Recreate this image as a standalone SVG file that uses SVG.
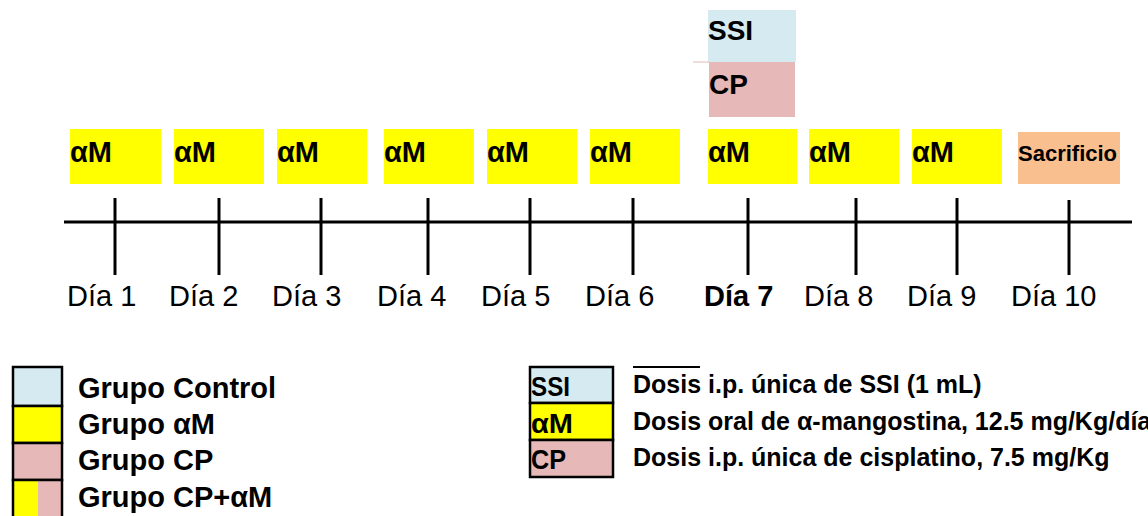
<svg xmlns="http://www.w3.org/2000/svg" width="1148" height="516" viewBox="0 0 1148 516">
<style>
  text { font-family: "Liberation Sans", Arial, sans-serif; fill: #000; }
  .b { font-weight: bold; }
  .am { font-size: 29px; font-weight: bold; }
  .day { font-size: 29px; }
  .leg { font-size: 29px; font-weight: bold; }
  .desc { font-size: 25px; font-weight: bold; }
  .box { font-size: 27px; font-weight: bold; }
  .y { fill: #FFFF00; }
  .bl { fill: #D6EBF1; }
  .pk { fill: #E6B8B7; }
  .pe { fill: #F9BF8F; }
  .ln { stroke: #000; stroke-width: 3; fill: none; }
  .bd { stroke: #000; stroke-width: 2.5; }
</style>

<g id="top-doses">
  <g id="ssi-top">
    <rect class="bl" x="708" y="10" width="88" height="52"/>
    <text class="b" x="708" y="40" font-size="28">SSI</text>
  </g>
  <g id="cp-top">
    <line x1="693" y1="62" x2="709" y2="62" stroke="#E6B8B7" stroke-width="1"/>
    <rect class="pk" x="709" y="62" width="86" height="55"/>
    <text class="b" x="709" y="94" font-size="28">CP</text>
  </g>
</g>

<g id="am-boxes">
  <g id="am1"><rect class="y" x="70" y="129" width="91" height="55"/><text class="am" x="70" y="162">αM</text></g>
  <g id="am2"><rect class="y" x="174" y="129" width="90" height="55"/><text class="am" x="174" y="162">αM</text></g>
  <g id="am3"><rect class="y" x="277" y="129" width="90" height="55"/><text class="am" x="277" y="162">αM</text></g>
  <g id="am4"><rect class="y" x="384" y="129" width="90" height="55"/><text class="am" x="384" y="162">αM</text></g>
  <g id="am5"><rect class="y" x="487" y="129" width="90" height="55"/><text class="am" x="487" y="162">αM</text></g>
  <g id="am6"><rect class="y" x="590" y="129" width="90" height="55"/><text class="am" x="590" y="162">αM</text></g>
  <g id="am7"><rect class="y" x="708" y="129" width="89" height="55"/><text class="am" x="708" y="162">αM</text></g>
  <g id="am8"><rect class="y" x="809" y="129" width="90" height="55"/><text class="am" x="809" y="162">αM</text></g>
  <g id="am9"><rect class="y" x="912" y="129" width="90" height="55"/><text class="am" x="912" y="162">αM</text></g>
  <g id="sacrificio"><rect class="pe" x="1018" y="132" width="102" height="52"/><text class="b" x="1018" y="161" font-size="22">Sacrificio</text></g>
</g>

<g id="connectors">
  <line class="ln" x1="64" y1="222" x2="1132" y2="222"/>
  <line class="ln" x1="115" y1="198" x2="115" y2="275"/>
  <line class="ln" x1="219" y1="198" x2="219" y2="275"/>
  <line class="ln" x1="321" y1="198" x2="321" y2="275"/>
  <line class="ln" x1="428" y1="198" x2="428" y2="275"/>
  <line class="ln" x1="530" y1="198" x2="530" y2="275"/>
  <line class="ln" x1="633" y1="198" x2="633" y2="275"/>
  <line class="ln" x1="748" y1="198" x2="748" y2="275"/>
  <line class="ln" x1="856" y1="198" x2="856" y2="275"/>
  <line class="ln" x1="957" y1="198" x2="957" y2="275"/>
  <line class="ln" x1="1069" y1="200" x2="1069" y2="275"/>
</g>

<g id="day-labels">
  <text class="day" x="67" y="306">Día 1</text>
  <text class="day" x="169" y="306">Día 2</text>
  <text class="day" x="272" y="306">Día 3</text>
  <text class="day" x="377" y="306">Día 4</text>
  <text class="day" x="481" y="306">Día 5</text>
  <text class="day" x="585" y="306">Día 6</text>
  <text class="day b" x="704" y="306">Día 7</text>
  <text class="day" x="804" y="306">Día 8</text>
  <text class="day" x="907" y="306">Día 9</text>
  <text class="day" x="1011" y="306">Día 10</text>
</g>

<g id="legend-groups">
  <g id="leg-control"><rect class="bl bd" x="13" y="367" width="49" height="39"/><text class="leg" x="78" y="398">Grupo Control</text></g>
  <g id="leg-am"><rect class="y bd" x="13" y="406" width="49" height="37"/><text class="leg" x="78" y="434">Grupo αM</text></g>
  <g id="leg-cp"><rect class="pk bd" x="13" y="443" width="49" height="37"/><text class="leg" x="78" y="470">Grupo CP</text></g>
  <g id="leg-cpam">
    <rect class="y" x="13" y="480" width="25" height="40"/>
    <rect class="pk" x="38" y="480" width="24" height="40"/>
    <rect fill="none" class="bd" x="13" y="480" width="49" height="40"/>
    <text class="leg" x="78" y="507">Grupo CP+αM</text>
  </g>
</g>

<g id="legend-doses">
  <line x1="633" y1="367" x2="700" y2="367" stroke="#000" stroke-width="2"/>
  <g id="leg-ssi"><rect class="bl bd" x="530" y="367" width="83" height="36"/><text class="box" x="531" y="396" textLength="39" lengthAdjust="spacingAndGlyphs">SSI</text><text class="desc" x="633" y="393">Dosis i.p. única de SSI (1 mL)</text></g>
  <g id="leg-am-dose"><rect class="y bd" x="530" y="403" width="83" height="37"/><text class="box" x="531" y="433" textLength="42" lengthAdjust="spacingAndGlyphs">αM</text><text class="desc" x="633" y="430">Dosis oral de α-mangostina, 12.5 mg/Kg/día</text></g>
  <g id="leg-cp-dose"><rect class="pk bd" x="530" y="440" width="83" height="37"/><text class="box" x="531" y="469" textLength="35" lengthAdjust="spacingAndGlyphs">CP</text><text class="desc" x="633" y="466">Dosis i.p. única de cisplatino, 7.5 mg/Kg</text></g>
</g>
</svg>
